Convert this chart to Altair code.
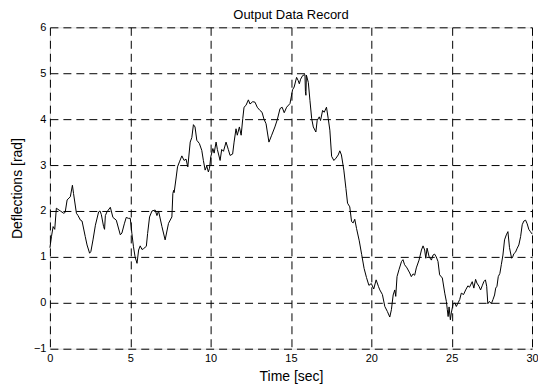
import altair as alt
import pandas as pd

# Time [sec] and deflection [rad] values
time_s = [
    0.0, 0.1, 0.2, 0.3, 0.4, 0.65, 0.86, 0.95, 1.07, 1.27, 1.4, 1.47, 1.65, 1.75, 1.9, 2.0,
    2.2, 2.31, 2.47, 2.55, 2.68, 2.83, 3.03, 3.12, 3.2, 3.34, 3.4, 3.45, 3.55, 3.76, 3.92,
    4.13, 4.38, 4.48, 4.63, 4.75, 4.88, 5.0, 5.1, 5.2, 5.3, 5.42, 5.52, 5.62, 5.73, 5.83,
    6.0, 6.08, 6.2, 6.35, 6.55, 6.66, 6.76, 6.97, 7.17, 7.38, 7.59, 7.65, 7.7, 7.73, 7.86,
    7.94, 8.06, 8.21, 8.35, 8.47, 8.58, 8.73, 8.83, 8.93, 9.03, 9.14, 9.3, 9.45, 9.55, 9.66,
    9.76, 9.86, 9.93, 10.01, 10.14, 10.22, 10.34, 10.42, 10.59, 10.69, 10.8, 10.96, 11.1,
    11.21, 11.37, 11.46, 11.58, 11.66, 11.79, 11.9, 12.0, 12.08, 12.2, 12.35, 12.45, 12.62,
    12.76, 12.9, 13.07, 13.2, 13.32, 13.45, 13.53, 13.63, 13.8, 14.0, 14.15, 14.32, 14.45,
    14.58, 14.73, 14.94, 15.1, 15.2, 15.35, 15.45, 15.52, 15.6, 15.73, 15.87, 15.9, 15.93,
    15.96, 16.08, 16.18, 16.29, 16.39, 16.55, 16.63, 16.76, 16.84, 16.97, 17.07, 17.21,
    17.32, 17.42, 17.53, 17.67, 17.8, 17.94, 18.04, 18.14, 18.29, 18.42, 18.52, 18.66,
    18.77, 18.87, 18.97, 19.08, 19.25, 19.4, 19.55, 19.7, 19.85, 20.0, 20.15, 20.3, 20.45,
    20.53, 20.69, 20.84, 21.0, 21.15, 21.25, 21.36, 21.46, 21.52, 21.6, 21.72, 21.88, 21.97,
    22.07, 22.22, 22.39, 22.49, 22.6, 22.7, 22.8, 22.97, 23.12, 23.22, 23.32, 23.39, 23.47,
    23.6, 23.74, 23.84, 23.94, 24.04, 24.15, 24.25, 24.42, 24.57, 24.67, 24.73, 24.78,
    24.84, 24.92, 24.98, 25.08, 25.19, 25.29, 25.4, 25.5, 25.6, 25.74, 25.87, 26.01, 26.11,
    26.28, 26.38, 26.49, 26.57, 26.7, 26.8, 26.9, 27.0, 27.1, 27.18, 27.25, 27.35, 27.47,
    27.57, 27.67, 27.74, 27.82, 27.9, 28.0, 28.09, 28.19, 28.29, 28.4, 28.5, 28.6, 28.73,
    28.8, 28.87, 28.97, 29.08, 29.18, 29.29, 29.39, 29.49, 29.6, 29.7, 29.8, 29.9, 30.0,
]
deflection = [
    1.2, 1.45, 1.66, 1.6, 2.06, 2.0, 1.95, 1.97, 2.24, 2.31, 2.56, 2.38, 1.95, 1.9, 1.8, 1.78,
    1.44, 1.26, 1.08, 1.12, 1.37, 1.69, 1.98, 2.0, 1.92, 1.66, 1.6, 1.9, 1.98, 2.08, 1.86,
    1.8, 1.48, 1.52, 1.72, 1.86, 1.84, 1.84, 1.51, 1.22, 1.0, 0.86, 1.15, 1.24, 1.16, 1.18,
    1.23, 1.51, 1.87, 2.0, 2.02, 1.9, 2.0, 1.66, 1.37, 1.73, 1.87, 2.38, 2.45, 2.4, 2.74,
    2.96, 3.07, 3.2, 3.1, 3.13, 2.96, 3.5, 3.6, 3.88, 3.83, 3.54, 3.47, 3.32, 3.1, 2.89,
    2.98, 2.85, 2.93, 3.18, 3.36, 3.26, 3.5, 3.34, 3.1, 3.34, 3.3, 3.5, 3.34,
    3.21, 3.24, 3.5, 3.79, 3.65, 3.83, 3.65, 4.01, 4.26, 4.3, 4.42, 4.33, 4.38,
    4.37, 4.26, 4.19, 4.15, 4.0, 3.9, 3.72, 3.5, 3.65, 3.83, 3.99, 4.23, 4.26,
    4.14, 4.26, 4.34, 4.64, 4.7, 4.91, 4.84, 4.77, 4.87, 4.95, 4.97, 4.6, 4.52,
    4.96, 4.8, 4.41, 4.01, 3.83, 3.72, 3.97, 4.05, 3.97, 4.19, 4.15, 4.26,
    4.01, 3.76, 3.19, 3.1, 3.15, 3.22, 3.31, 3.22, 2.89, 2.49, 2.17, 2.09,
    1.77, 1.74, 1.82, 1.62, 1.35, 1.05, 0.75, 0.55, 0.38, 0.42, 0.3, 0.5, 0.35,
    0.28, 0.18, -0.08, -0.19, -0.31, -0.15, 0.17, 0.28, 0.14, 0.57, 0.72, 0.9, 0.94,
    0.83, 0.76, 0.65, 0.57, 0.63, 0.6, 0.76, 0.93, 1.15, 1.24, 1.15, 0.97, 1.19,
    1.0, 0.93, 1.04, 1.06, 1.0, 0.9, 0.61, 0.54, 0.21, 0.03, -0.15, -0.3,
    -0.09, -0.37, -0.22, -0.04, 0.0, -0.08, 0.0, 0.07, 0.21, 0.18, 0.28, 0.37, 0.34,
    0.46, 0.32, 0.51, 0.43, 0.36, 0.28, 0.37, 0.46, 0.5, 0.36, -0.02, 0.03, -0.02,
    0.07, 0.17, 0.32, 0.36, 0.57, 0.64, 0.83, 1.04, 1.37, 1.48, 1.55, 1.2, 0.97,
    1.0, 1.07, 1.1, 1.19, 1.26, 1.44, 1.7, 1.78, 1.8, 1.72, 1.6, 1.55, 1.5,
]

x_ticks = [0, 5, 10, 15, 20, 25, 30]
y_ticks = [-1, 0, 1, 2, 3, 4, 5, 6]
title_text = ["Output Data Record"]

df = pd.DataFrame({"t": time_s, "y": deflection})

FONT = "Liberation Sans"
W, H = 483, 322

axis_common = dict(
    grid=True,
    gridDash=[8, 5],
    gridColor="black",
    gridOpacity=1,
    gridWidth=1,
    ticks=False,
    domain=False,
    labelPadding=4,
    labelFlush=False,
    labelOverlap=False,
    labelFont=FONT,
    labelFontSize=11,
    labelColor="black",
    titleFont=FONT,
    titleFontSize=14,
    titleFontWeight="normal",
    titleColor="black",
)

line = alt.Chart(df).mark_line(color="black", strokeWidth=1).encode(
    x=alt.X(
        "t:Q",
        scale=alt.Scale(domain=[0, 30], nice=False, zero=False),
        axis=alt.Axis(values=x_ticks, title="Time [sec]", titlePadding=6, **axis_common),
    ),
    y=alt.Y(
        "y:Q",
        scale=alt.Scale(domain=[-1, 6], nice=False, zero=False),
        axis=alt.Axis(values=y_ticks, title="Deflections [rad]", titlePadding=9, **axis_common),
    ),
)

title = alt.Chart(pd.DataFrame({"label": title_text})).mark_text(
    font=FONT, fontSize=13, color="black", baseline="middle", align="center"
).encode(
    text="label:N",
    x=alt.value(W / 2),
    y=alt.value(-12),
)

chart = (
    alt.layer(line, title)
    .properties(
        width=W,
        height=H,
        autosize=alt.AutoSizeParams(type="none"),
        padding={"left": 42, "top": 19, "right": 6, "bottom": 38},
    )
    .configure_view(stroke="black", strokeWidth=1)
    .configure(background="white")
)

chart.save("out.html", embed_options={"renderer": "svg", "actions": False})
